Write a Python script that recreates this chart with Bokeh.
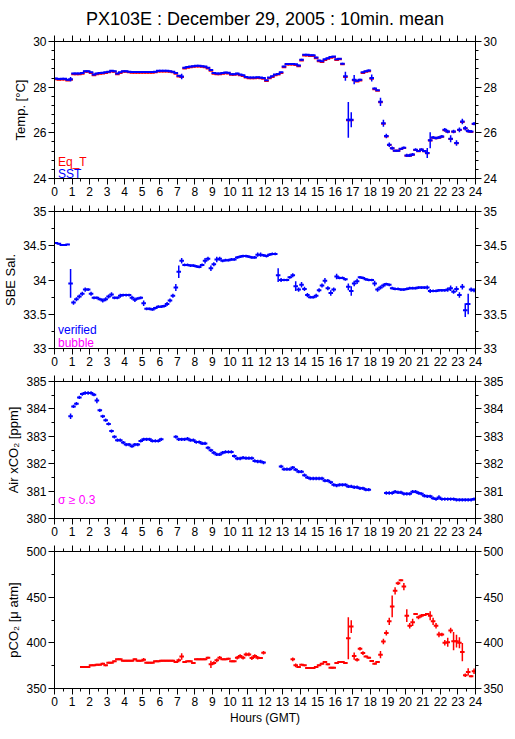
import numpy as np
from bokeh.plotting import figure
from bokeh.layouts import column
from bokeh.models import LinearAxis, FixedTicker, Label, ColumnDataSource, Range1d
from bokeh.embed import file_html
from bokeh.resources import INLINE

FONT = "Liberation Sans"
N = None

# ---------------- data: 10-minute means, 6 values per hour (rows = hours 0..23) ----------
sst = [
    28.38, 28.36, 28.37, 28.37, 28.32, 28.35,
    28.60, 28.60, 28.60, 28.62, 28.70, 28.70,
    28.65, 28.55, 28.60, 28.62, 28.63, 28.65,
    28.68, 28.72, 28.70, 28.60, 28.65, 28.70,
    28.70, 28.68, 28.66, 28.66, 28.66, 28.66,
    28.66, 28.66, 28.66, 28.66, 28.68, 28.72,
    28.72, 28.72, 28.72, 28.70, 28.68, 28.62,
    28.50, 28.47, 28.85, 28.88, 28.90, 28.92,
    28.94, 28.94, 28.92, 28.90, 28.85, 28.75,
    28.62, 28.60, 28.60, 28.62, 28.64, 28.63,
    28.57, 28.57, 28.60, 28.55, 28.52, 28.45,
    28.42, 28.42, 28.42, 28.43, 28.42, 28.40,
    28.30, 28.42, 28.48, 28.55, 28.58, 28.65,
    28.90, 29.02, 29.02, 29.02, 29.00, 28.95,
    29.20, 29.42, 29.42, 29.40, 29.40, 29.30,
    29.17, 29.13, 29.22, 29.27, 29.32, 29.34,
    29.22, 29.25, 29.03, 28.48, 26.57, 26.57,
    28.33, 28.28, 28.32, 28.65, 28.70, 28.73,
    28.40, 27.94, 27.86, 27.36, 26.42, 25.86,
    25.48, 25.33, 25.22, 25.22, 25.30, 25.35,
    25.01, 25.01, 25.05, 25.26, 25.20, 25.27,
    25.20, 25.12, 25.68, 25.80, 25.77, 25.80,
    25.84, 26.13, 26.06, 25.74, 26.06, 25.55,
    26.13, 26.50, 26.20, 26.08, 26.06, 26.40,
]
sst_err = [
    .03, .03, .03, .03, .03, .10,
    .03, .03, .03, .03, .03, .03,
    .03, .04, .03, .03, .03, .03,
    .03, .03, .03, .03, .03, .03,
    .03, .03, .03, .03, .03, .03,
    .03, .03, .03, .03, .03, .03,
    .03, .03, .03, .03, .03, .03,
    .03, .12, .04, .03, .03, .03,
    .03, .03, .03, .03, .03, .03,
    .03, .03, .03, .03, .03, .03,
    .03, .03, .03, .03, .03, .03,
    .03, .03, .03, .03, .03, .03,
    .03, .03, .03, .03, .03, .03,
    .04, .03, .03, .03, .03, .04,
    .04, .03, .03, .03, .03, .03,
    .03, .03, .03, .03, .03, .03,
    .03, .03, .04, .20, .78, .33,
    .20, .05, .05, .04, .03, .04,
    .15, .04, .03, .18, .15, .10,
    .10, .07, .04, .04, .04, .05,
    .07, .07, .07, .06, .04, .05,
    .05, .22, .35, .06, .06, .06,
    .06, .08, .08, .15, .08, .12,
    .10, .12, .10, .08, .06, .07,
]
eq_t = [
    28.35, 28.33, 28.34, 28.34, 28.29, 28.32,
    28.57, 28.57, 28.57, 28.59, 28.67, 28.67,
    28.62, 28.52, 28.57, 28.59, 28.60, 28.62,
    28.65, 28.69, 28.67, 28.57, 28.62, 28.67,
    28.67, 28.65, 28.63, 28.63, 28.63, 28.63,
    28.63, 28.63, 28.63, 28.63, 28.65, 28.69,
    28.69, 28.69, 28.69, 28.67, 28.65, 28.59,
    28.47, 28.45, 28.82, 28.85, 28.87, 28.89,
    28.91, 28.91, 28.89, 28.87, 28.82, 28.72,
    28.59, 28.57, 28.57, 28.59, 28.61, 28.60,
    28.54, 28.54, 28.57, 28.52, 28.49, 28.42,
    28.39, 28.39, 28.39, 28.40, 28.39, 28.37,
    28.27, 28.39, 28.45, 28.52, 28.55, 28.62,
    28.87, 28.99, 28.99, 28.99, 28.97, 28.92,
    29.17, 29.39, 29.39, 29.37, 29.37, 29.27,
    29.14, 29.10, 29.19, 29.24, 29.29, 29.31,
    29.19, 29.22, 29.00, 28.44, 26.55, 26.55,
    28.30, 28.25, 28.29, 28.62, 28.67, 28.70,
    28.37, 27.91, 27.84, 27.34, 26.40, 25.84,
    25.47, 25.32, 25.21, 25.21, 25.29, 25.34,
    25.00, 25.00, 25.04, 25.25, 25.19, 25.26,
    25.19, 25.11, 25.66, 25.79, 25.76, 25.79,
    25.83, 26.11, 26.05, 25.73, 26.05, 25.54,
    26.12, 26.47, 26.19, 26.07, 26.04, 26.39,
]
sal = [
    34.54, 34.53, 34.51, 34.51, 34.52, 33.95,
    33.67, 33.72, 33.76, 33.80, 33.86, 33.86,
    33.80, 33.74, 33.74, 33.72, 33.70, 33.72,
    33.76, 33.79, 33.74, 33.74, 33.77, 33.78,
    33.78, 33.78, 33.74, 33.71, 33.73, 33.74,
    33.66, 33.58, 33.58, 33.57, 33.59, 33.61,
    33.61, 33.62, 33.65, 33.70, 33.77, 33.89,
    34.12, 34.28, 34.22, 34.22, 34.21, 34.21,
    34.20, 34.19, 34.22, 34.28, 34.31, 34.17,
    34.23, 34.30, 34.31, 34.28, 34.29, 34.29,
    34.30, 34.30, 34.33, 34.34, 34.35, 34.35,
    34.34, 34.33, 34.33, 34.37, 34.37, 34.36,
    34.35, 34.37, 34.38, 34.38, 34.07, 34.00,
    34.00, 34.00, 34.04, 34.07, 33.91, 33.86,
    33.93, 33.87, 33.78, 33.75, 33.75, 33.77,
    33.85, 33.92, 33.99, 33.88, 33.81, 33.86,
    34.05, 34.03, 34.03, 34.01, 33.90, 33.84,
    33.95, 33.98, 34.04, 34.03, 34.01, 34.00,
    34.00, 33.95, 33.86, 33.89, 33.92, 33.94,
    33.93, 33.88, 33.87, 33.87, 33.86, 33.86,
    33.87, 33.88, 33.88, 33.88, 33.89, 33.89,
    33.89, 33.89, 33.84, 33.84, 33.84, 33.85,
    33.85, 33.85, 33.86, 33.88, 33.83, 33.87,
    33.78, 33.90, 33.56, 33.65, 33.86, 33.85,
]
sal_err = [
    .01, .01, .01, .01, .01, .21,
    .03, .03, .03, .03, .03, .02,
    .03, .02, .02, .02, .03, .03,
    .03, .03, .02, .02, .03, .02,
    .02, .02, .03, .03, .02, .02,
    .04, .02, .02, .02, .02, .02,
    .02, .02, .03, .03, .03, .05,
    .09, .04, .02, .02, .02, .02,
    .02, .02, .02, .04, .03, .04,
    .03, .04, .03, .02, .02, .02,
    .02, .02, .02, .02, .02, .02,
    .02, .02, .02, .03, .03, .02,
    .02, .02, .02, .02, .10, .03,
    .02, .02, .02, .03, .07, .03,
    .04, .03, .03, .02, .02, .03,
    .03, .03, .04, .03, .04, .03,
    .04, .02, .02, .02, .05, .07,
    .04, .04, .02, .02, .02, .02,
    .02, .04, .03, .03, .03, .02,
    .02, .02, .02, .02, .02, .02,
    .02, .02, .02, .02, .02, .02,
    .02, .03, .03, .02, .02, .02,
    .02, .02, .03, .04, .03, .04,
    .04, .04, .10, .15, .03, .03,
]
xco2 = [
    N, N, N, N, N, 383.73,
    384.09, 384.19, 384.42, 384.54, 384.58, 384.58,
    384.58, 384.52, 384.31, 383.95, 383.73, 383.59,
    383.45, 383.19, 382.98, 382.86, 382.86, 382.77,
    382.70, 382.70, 382.64, 382.70, 382.70, 382.83,
    382.89, 382.89, 382.89, 382.83, 382.83, 382.83,
    382.89, N, N, N, N, 382.98,
    382.89, 382.89, 382.89, 382.91, 382.86, 382.86,
    382.79, 382.79, 382.74, 382.74, 382.58, 382.49,
    382.40, 382.34, 382.34, 382.40, 382.43, 382.43,
    382.43, 382.28, 382.19, 382.19, 382.22, 382.20,
    382.20, 382.20, 382.10, 382.08, 382.08, 382.04,
    N, N, N, N, N, 381.90,
    381.80, 381.80, 381.80, 381.86, 381.78, 381.71,
    381.71, 381.58, 381.50, 381.46, 381.46, 381.46,
    381.46, 381.46, 381.38, 381.38, 381.32, 381.23,
    381.20, 381.23, 381.23, 381.23, 381.17, 381.17,
    381.14, 381.14, 381.10, 381.10, 381.05, 381.05,
    N, N, N, N, N, 380.93,
    380.93, 380.93, 380.98, 380.95, 380.95, 380.90,
    380.90, 380.90, 380.98, 380.98, 380.93, 380.90,
    380.83, 380.81, 380.81, 380.74, 380.71, 380.77,
    380.71, 380.71, 380.71, 380.71, 380.71, 380.68,
    380.68, 380.68, 380.68, 380.68, 380.68, 380.71,
]
xco2_err = [0.06] * 144
xco2_err[5] = 0.10
xco2_err[14] = 0.10
xco2_err[131] = 0.08

pco2 = [
    N, N, N, N, N, N,
    N, N, N, 373.5, 373.5, 373.5,
    375.4, 375.4, 376.1, 376.1, 377.2, 375.4,
    378.3, 378.3, 379.7, 381.9, 381.9, 380.4,
    380.4, 380.4, 380.4, 381.9, 380.4, 380.4,
    381.5, 378.3, 378.3, 378.3, 379.7, 379.7,
    380.4, 380.4, 380.4, 380.4, 380.4, 379.0,
    380.8, 385.0, 379.0, 379.7, 379.7, 377.9,
    381.9, 381.9, 381.9, 381.9, 383.7, 376.5,
    377.9, 380.8, 383.7, 381.9, 381.9, 382.6,
    379.7, 379.7, 383.7, 385.5, 383.7, 387.3,
    387.3, 383.3, 385.5, 383.7, 383.3, 389.1,
    N, N, N, N, N, N,
    N, N, N, 381.9, 375.4, 373.6,
    376.1, 375.4, 372.5, 372.5, 372.5, 373.6,
    375.4, 377.2, 379.0, 376.5, 372.8, 372.8,
    377.9, 379.0, 379.0, 377.9, 405.0, 417.8,
    385.5, 381.5, 393.5, 388.8, 385.1, 383.7,
    380.1, 377.2, 379.0, 387.0, 401.4, 410.9,
    423.6, 439.9, 456.9, 465.2, 468.5, 461.6,
    429.7, 418.8, 422.5, 431.5, 427.9, 429.7,
    430.4, 431.5, 429.7, 423.6, 418.8, 409.1,
    409.1, 400.0, 400.7, 413.4, 401.8, 401.8,
    400.0, 389.9, 364.5, 368.1, 363.4, 368.8,
]
pco2_err = [
    1, 1, 1, 1, 1, 1,
    1, 1, 1, 1, 1, 1,
    1, 1, 1, 1, 1, 1,
    1, 1, 1, 1, 1, 1,
    1, 1, 1, 1, 1, 1,
    2, 1, 1, 1, 1, 1,
    1, 1, 1, 1, 1, 1,
    2, 3.6, 1, 1, 1, 1,
    1, 1, 1, 1, 1, 4,
    2, 2, 2, 1, 1, 1,
    1, 1, 2, 2, 2, 2,
    2, 2, 2, 2, 1, 2,
    1, 1, 1, 1, 1, 1,
    1, 1, 1, 2, 2, 1,
    1, 1, 1, 1, 1, 1,
    1, 1, 1, 1, 1, 1,
    1, 1, 1, 1, 23, 7,
    4, 2, 2, 2, 1, 1,
    1, 1, 1, 4, 3, 3,
    4, 12, 4, 2, 1, 4,
    7, 3, 4, 1, 2, 2,
    1, 1, 5, 4, 3, 3,
    2, 3, 5, 3, 10, 7,
    6, 10, 2, 4, 1, 3,
]

hour_ticks = list(range(25))
hour_minor = [h + 0.5 for h in range(24)]

hours = (np.arange(144) + 0.5) / 6.0
HW = 0.13  # half width of the cross bar (hours)

FW = 421   # frame width
FH = 137   # frame height


def arr(lst):
    return np.array([np.nan if v is None else v for v in lst], dtype=float)


def crosses(p, vals, errs, color, vertical=True):
    y = arr(vals)
    e = arr(errs)
    src = ColumnDataSource(dict(x0=hours - HW, x1=hours + HW, xc=hours,
                                y=y, ylo=y - e, yhi=y + e))
    p.segment(x0="x0", y0="y", x1="x1", y1="y", source=src,
              line_color=color, line_width=2)
    if vertical:
        p.segment(x0="xc", y0="ylo", x1="xc", y1="yhi", source=src,
                  line_color=color, line_width=1.5)


def style_axis(ax, show_labels=True):
    ax.axis_line_color = "black"
    ax.major_tick_line_color = "black"
    ax.minor_tick_line_color = "black"
    ax.major_tick_out = 6
    ax.major_tick_in = 0
    ax.minor_tick_out = 3
    ax.minor_tick_in = 0
    ax.major_label_text_font = FONT
    ax.axis_label_text_font = FONT
    ax.axis_label_text_font_style = "normal"
    ax.axis_label_text_color = "black"
    ax.axis_label_text_font_size = "13px"
    ax.axis_label_standoff = 2
    if show_labels:
        ax.major_label_text_color = "black"
        ax.major_label_text_font_size = "12px"
        ax.major_label_standoff = 2
    else:
        ax.major_label_text_color = None
        ax.major_label_text_alpha = 0
        ax.major_label_text_font_size = "0px"
        ax.major_label_standoff = 0
        ax.axis_label_standoff = 0


def panel(ylo, yhi, majors, minors, ylabel, overrides, top, bottom,
          title=None, xlabel=None):
    kw = {}
    if title:
        kw["title"] = title
    p = figure(frame_width=FW, frame_height=FH, x_range=Range1d(0, 24),
               y_range=Range1d(ylo, yhi), output_backend="svg",
               toolbar_location=None, min_border_left=47, min_border_right=31,
               min_border_top=top, min_border_bottom=bottom, **kw)
    p.xgrid.visible = False
    p.ygrid.visible = False
    p.outline_line_color = "black"
    p.background_fill_color = "white"
    p.border_fill_color = "white"

    xb = p.xaxis[0]
    xb.ticker = FixedTicker(ticks=hour_ticks, minor_ticks=hour_minor)
    style_axis(xb)
    if xlabel:
        xb.axis_label = xlabel
        xb.axis_label_text_font_size = "12px"
        xb.axis_label_standoff = 2

    yl = p.yaxis[0]
    yl.ticker = FixedTicker(ticks=majors, minor_ticks=minors)
    yl.major_label_overrides = overrides
    style_axis(yl)
    yl.axis_label = ylabel

    top_ax = LinearAxis(ticker=FixedTicker(ticks=hour_ticks, minor_ticks=hour_minor))
    style_axis(top_ax, show_labels=False)
    p.add_layout(top_ax, "above")

    right_ax = LinearAxis(ticker=FixedTicker(ticks=majors, minor_ticks=minors),
                          major_label_overrides=overrides)
    style_axis(right_ax)
    right_ax.axis_label_standoff = 0
    right_ax.axis_label_text_font_size = "0px"
    p.add_layout(right_ax, "right")

    if title:
        p.title.align = "center"
        p.title.text_font = FONT
        p.title.text_font_size = "18px"
        p.title.text_font_style = "normal"
        p.title.text_color = "black"
        p.title.standoff = 13
    return p


def lab(p, x, y, text, color):
    p.add_layout(Label(x=x, y=y, text=text, text_color=color, text_font=FONT,
                       text_font_size="12px", text_baseline="alphabetic"))


# Panel 1: temperature
t_major = [24, 26, 28, 30]
t_minor = [24.4, 24.8, 25.2, 25.6, 26.4, 26.8, 27.2, 27.6, 28.4, 28.8, 29.2, 29.6]
p1 = panel(24, 30, t_major, t_minor, "Temp. [°C]", {}, 35, 22,
           title="PX103E : December 29, 2005 : 10min. mean")
crosses(p1, eq_t, sst_err, "#ff0000", vertical=False)
crosses(p1, sst, sst_err, "#0000ff")
lab(p1, 0.2, 24.72, "Eq_T", "#ff0000")
lab(p1, 0.2, 24.18, "SST", "#0000ff")

# Panel 2: salinity
s_major = [33, 33.5, 34, 34.5, 35]
s_minor = [33.25, 33.75, 34.25, 34.75]
s_over = {33: "33", 33.5: "33.5", 34: "34", 34.5: "34.5", 35: "35"}
p2 = panel(33, 35, s_major, s_minor, "SBE Sal.", s_over, 11, 22)
crosses(p2, sal, sal_err, "#0000ff")
lab(p2, 0.2, 33.27, "verified", "#0000ff")
lab(p2, 0.2, 33.08, "bubble", "#ff00ff")

# Panel 3: air xCO2
a_major = [380, 381, 382, 383, 384, 385]
a_minor = [380.5, 381.5, 382.5, 383.5, 384.5]
p3 = panel(380, 385, a_major, a_minor, "Air xCO₂ [ppm]", {}, 11, 22)
crosses(p3, xco2, xco2_err, "#0000ff")
lab(p3, 0.2, 380.66, "σ ≥ 0.3", "#ff00ff")

# Panel 4: pCO2
c_major = [350, 400, 450, 500]
c_minor = [375, 425, 475]
p4 = panel(350, 500, c_major, c_minor, "pCO₂ [μ atm]", {}, 11, 36,
           xlabel="Hours (GMT)")
crosses(p4, pco2, pco2_err, "#ff0000")

layout = column(p1, p2, p3, p4, spacing=0)
open("out.html", "w").write(file_html(layout, INLINE))
